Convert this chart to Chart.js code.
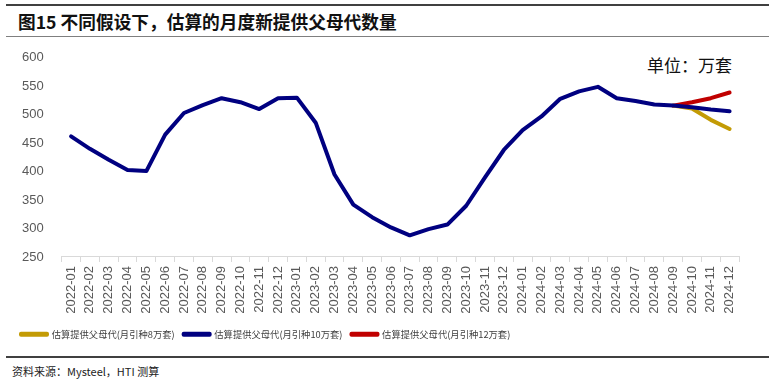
<!DOCTYPE html>
<html>
<head>
<meta charset="utf-8">
<script src="https://cdn.jsdelivr.net/npm/chart.js@4.4.1/dist/chart.umd.min.js"></script>
<style>
  body { margin: 0; background: #fff; width: 769px; height: 384px; position: relative; overflow: hidden; }
  .rule { position: absolute; left: 6px; right: 0; background: #404040; }
  #title { position: absolute; left: 18px; top: 9px; font: bold 17.7px "Noto Sans CJK SC", sans-serif; color: #111; line-height: 24px; white-space: nowrap; }
  #unit { position: absolute; left: 647px; top: 53px; font: 17px "Noto Sans CJK SC", serif; color: #111; line-height: 24px; white-space: nowrap; }
  #source { position: absolute; left: 12px; top: 362px; font: 11px "Noto Sans CJK SC", sans-serif; color: #222; line-height: 18px; white-space: nowrap; }
  #wrap { position: absolute; left: 0; top: 40px; width: 769px; height: 309px; }
</style>
</head>
<body>
<div class="rule" style="top:4px;height:2px"></div>
<div id="title">图15 不同假设下，估算的月度新提供父母代数量</div>
<div class="rule" style="top:36px;height:1px;background:#7f7f7f"></div>
<div id="unit">单位：万套</div>
<div id="wrap"><canvas id="chart1"></canvas></div>
<div class="rule" style="top:356px;height:2px"></div>
<div id="source">资料来源：Mysteel，HTI 测算</div>
<script>
// months on the x axis
var months = ["2022-01", "2022-02", "2022-03", "2022-04", "2022-05", "2022-06", "2022-07", "2022-08", "2022-09", "2022-10", "2022-11", "2022-12",
    "2023-01", "2023-02", "2023-03", "2023-04", "2023-05", "2023-06", "2023-07", "2023-08", "2023-09", "2023-10", "2023-11", "2023-12",
    "2024-01", "2024-02", "2024-03", "2024-04", "2024-05", "2024-06", "2024-07", "2024-08", "2024-09", "2024-10", "2024-11", "2024-12"];

// 万套
var supply10 = [462, 440, 421, 403, 401, 465, 503, 517, 529, 522, 510, 529,
    530, 486, 395, 342, 320, 302, 288, 299, 307, 340, 390, 438,
    473, 497, 528, 541, 549, 529, 524, 518, 516, 513, 509, 506];
var supply8 = [null, null, null, null, null, null, null, null, null, null, null, null,
    null, null, null, null, null, null, null, null, null, null, null, null,
    null, null, null, null, null, null, null, null, 516, 511, 491, 475];
var supply12 = [null, null, null, null, null, null, null, null, null, null, null, null,
    null, null, null, null, null, null, null, null, null, null, null, null,
    null, null, null, null, null, null, null, null, 516, 522, 529, 539];

var yTicks = [250, 300, 350, 400, 450, 500, 550, 600];

var seriesLabels = ["估算提供父母代(月引种8万套)", "估算提供父母代(月引种10万套)", "估算提供父母代(月引种12万套)"];
var seriesColors = ["#C39B05", "#000080", "#C00000"];

var char1El = document.getElementById('chart1');
new Chart(char1El, {
    type: 'line',
    data: {
        labels: months,
        datasets: [{
            label: seriesLabels[0],
            data: supply8,
            borderColor: seriesColors[0],
            backgroundColor: seriesColors[0],
            order: 2
        }, {
            label: seriesLabels[1],
            data: supply10,
            borderColor: seriesColors[1],
            backgroundColor: seriesColors[1],
            order: 1
        }, {
            label: seriesLabels[2],
            data: supply12,
            borderColor: seriesColors[2],
            backgroundColor: seriesColors[2],
            order: 3
        }]
    },
    options: {
        responsive: true,
        maintainAspectRatio: false,
        animation: false,
        layout: {
            padding: { top: 12, left: 12, right: 30, bottom: 0 }
        },
        elements: {
            line: { borderWidth: 4, tension: 0, borderCapStyle: 'round', borderJoinStyle: 'round' },
            point: { radius: 0, hoverRadius: 0 }
        },
        scales: {
            x: {
                offset: true,
                afterFit: function (axis) { axis.height += 3; },
                grid: { display: true, drawOnChartArea: false, drawTicks: true, tickLength: 5, color: '#d9d9d9', offset: true },
                border: { display: true, color: '#d9d9d9' },
                ticks: {
                    autoSkip: false, maxRotation: 90, minRotation: 90,
                    color: '#595959', font: { family: 'Liberation Sans, Arial', size: 13 }, padding: 4
                }
            },
            y: {
                min: 250,
                max: 600,
                afterBuildTicks: function (axis) {
                    axis.ticks = yTicks.map(function (v) { return { value: v }; });
                },
                grid: { display: false },
                border: { display: false },
                ticks: { color: '#595959', font: { family: 'Liberation Sans, Arial', size: 13 }, padding: 10 }
            }
        },
        plugins: {
            legend: {
                display: true,
                position: 'bottom',
                align: 'start',
                labels: {
                    boxWidth: 26,
                    boxHeight: 1,
                    padding: 9,
                    color: '#404040',
                    font: { family: 'Noto Sans CJK SC', size: 9.3 },
                    sort: function (a, b) { return a.datasetIndex - b.datasetIndex; }
                }
            },
            tooltip: { enabled: false },
            title: { display: false }
        }
    }
});
</script>
</body>
</html>
